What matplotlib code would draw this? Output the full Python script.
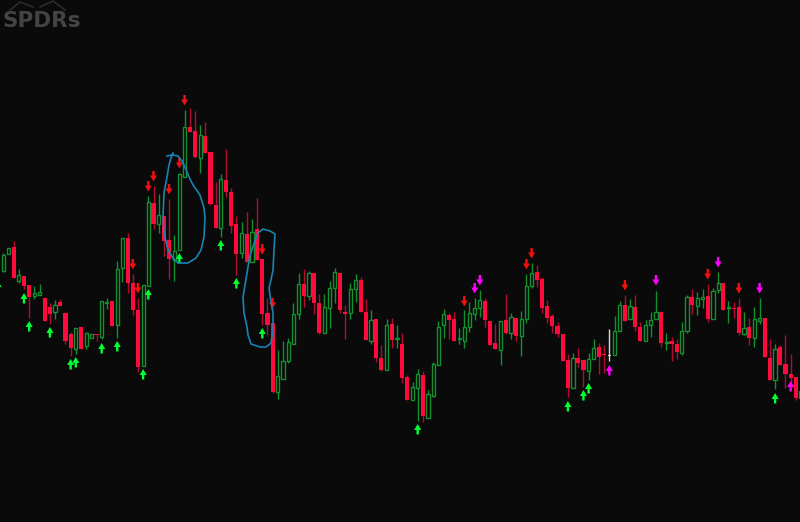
import numpy as np
import matplotlib
matplotlib.use('Agg')
import matplotlib.pyplot as plt

# candle values (inverted scale, top of picture = 0)
high = [257,253,248,241,269,276,285,286,284,298,
        303,300,299,312,332,328,327,332,334,334,
        301,298,301,261,238,233,274,298,285,196,
        186,194,216,199,235,173,110,108,111,125,
        122,152,182,174,149,188,216,222,212,219,
        198,259,298,323,350,341,338,303,273,269,
        271,273,294,294,281,268,273,305,283,274,
        277,299,310,319,345,319,318,325,333,375,
        382,369,371,390,362,321,309,313,312,328,
        310,302,298,290,298,321,324,321,294,313,
        318,311,274,263,265,277,300,314,322,334,
        354,353,348,360,353,339,343,345,329,316,
        301,295,299,295,322,320,312,291,311,333,
        337,339,322,295,289,292,289,284,288,272,
        283,301,302,298,312,318,307,298,318,339,
        344,345,335,354,377,391]
body_top = [259,255,248,247,275,276,285,293,292,298,
            307,305,302,313,334,328,327,333,334,334,
            301,302,301,269,238,238,283,310,285,202,
            203,215,216,240,251,174,127,127,131,135,
            136,152,205,179,180,192,224,233,234,232,
            229,259,313,323,376,361,342,314,284,284,
            273,273,303,307,288,272,273,312,289,280,
            280,312,320,319,358,325,324,338,344,377,
            387,374,375,394,364,327,314,315,319,338,
            327,313,308,300,301,321,343,321,320,317,
            318,319,286,273,272,279,306,316,326,334,
            360,358,358,360,359,348,347,354,355,331,
            305,305,306,307,327,325,320,312,312,342,
            341,344,331,297,297,298,297,296,291,283,
            283,307,308,307,328,327,319,318,318,358,
            349,347,364,374,377,391]
body_bot = [269,271,254,278,281,286,297,296,295,321,
            314,312,306,341,348,349,349,346,338,335,
            337,303,326,325,268,283,310,367,366,286,
            224,224,241,259,260,250,177,132,157,158,
            153,204,228,228,192,226,254,253,262,262,
            260,314,325,392,392,379,361,344,314,296,
            296,303,333,333,308,288,310,314,313,289,
            312,340,341,358,370,370,340,339,378,400,
            400,388,416,418,396,365,325,320,341,339,
            341,327,314,308,320,345,349,350,333,333,
            336,336,319,286,280,308,318,326,334,361,
            388,388,363,370,371,359,357,355,356,355,
            331,321,319,327,341,341,325,319,343,343,
            344,352,353,331,305,306,299,319,319,290,
            310,308,309,333,334,338,338,321,357,380,
            380,365,374,378,398,398]
low = [270,272,254,278,283,289,318,299,295,321,
       324,319,306,344,356,354,349,349,338,341,
       339,309,326,338,282,293,315,372,366,286,
       229,233,256,279,281,250,177,132,158,173,
       153,205,228,237,197,233,275,258,262,262,
       260,325,335,393,399,379,363,344,319,307,
       300,314,334,333,328,303,313,339,319,302,
       312,340,344,362,371,370,348,348,383,400,
       400,421,422,418,397,365,338,339,341,344,
       348,332,320,317,327,345,349,365,334,339,
       341,356,323,288,287,313,323,333,337,361,
       397,388,367,387,380,359,374,373,361,355,
       331,321,319,331,341,341,337,319,347,350,
       361,359,355,333,314,315,308,322,319,293,
       310,323,318,335,335,345,347,324,357,380,
       389,365,388,387,400,398]
kinds = ("rggrgrrggr" "rgrrrgrggr" "ggrggrrrgg" "rgrrgggrrg" "rrrgrrrgrg"
         "rrrrgggggr" "grrgggrrgg" "rrgrrgrgrr" "ggrggggrrg" "ggggrrrgrg"
         "rgggrrrrrr" "rgrrggrrwg" "grgrrgggrg" "rrggrggrgg" "rgrrgrggrr"
         "grrrrg")

# signal arrows: bar number and where the arrow starts at its top
green_up = [0,5,6,10,14,15,20,23,28,29,35,43,46,51,81,110,113,114,150]
green_up_top = [281,293,321,327,359,357,343,341,369,289,253,240,278,328,424,401,390,383,393]
magenta_up = [118,153]
magenta_up_top = [365,381]
magenta_down = [92,93,127,139,147]
magenta_down_top = [283,275,275,257,283]
red_down = [26,27,29,30,33,35,36,51,53,90,102,103,121,137,143]
red_down_top = [259,283,181,171,184,158,95,244,298,296,259,248,280,269,283]

# the two hand drawn loops, in picture pixels
loop1_x = [167,173,178,182,185,189,193,200,204,205,204,201,196,188,178,173,168,164,163,164,167,169,171,173]
loop1_y = [156,155,156,161,167,177,185,195,208,218,237,250,258,263,263,258,250,233,217,193,177,165,158,153]
loop2_x = [255,258,263,270,275,274,273,271,269,271,273,273,271,266,260,251,248,247,244,243,245,248,250,255]
loop2_y = [241,233,229,231,234,250,270,280,288,302,313,330,343,347,347,344,335,327,313,297,285,267,255,241]

# logo legs above the text
logo_x1 = [10,20,33]
logo_y1 = [10,2,7]
logo_x2 = [40,53,65]
logo_y2 = [7,1,10]

bg = '#0a0a0a'
red = '#ff0a3c'
red_wick = '#b40a30'
green = '#149030'
step = 5.18      # pixels per bar
first = -1.9     # pixel of bar 0

fig = plt.figure(figsize=(8.0, 5.22), dpi=100, facecolor=bg)
ax = fig.add_axes([0, 0, 1, 1], facecolor=bg)
ax.set_xlim(-first / step, (800 - first) / step)
ax.set_ylim(522, 0)
ax.axis('off')

kind = np.array(list(kinds))
idx = np.arange(len(kind))
high = np.array(high)
low = np.array(low)
body_top = np.array(body_top)
body_bot = np.array(body_bot)

# wicks
ax.vlines(idx[kind == 'g'], high[kind == 'g'], low[kind == 'g'], color=green, lw=1.0, zorder=2)
ax.vlines(idx[kind == 'r'], high[kind == 'r'], low[kind == 'r'], color=red_wick, lw=1.0, zorder=2)
ax.vlines(idx[kind == 'w'], high[kind == 'w'], low[kind == 'w'], color='#d8d8d8', lw=1.0, zorder=2)

# bodies, green ones are hollow
g = kind == 'g'
r = kind == 'r'
ax.bar(idx[g], (body_bot - body_top)[g], bottom=body_top[g], width=0.62,
       facecolor=bg, edgecolor=green, lw=1.0, zorder=3)
ax.bar(idx[r], (body_bot - body_top)[r], bottom=body_top[r], width=0.8,
       color=red, lw=0, zorder=3)
w = kind == 'w'
ax.bar(idx[w], (body_bot - body_top)[w], bottom=body_top[w], width=0.7,
       color='#d8d8d8', lw=0, zorder=3)


def arrows(bars, tops, color, down):
    for b, t in zip(bars, tops):
        start, length = (t, 10.5) if down else (t + 10.5, -10.5)
        ax.arrow(b, start, 0, length, width=2.4 / step, head_width=7.0 / step,
                 head_length=6.0, length_includes_head=True, color=color, lw=0, zorder=5)


arrows(green_up, green_up_top, '#00ff33', False)
arrows(magenta_up, magenta_up_top, '#ff00ff', False)
arrows(magenta_down, magenta_down_top, '#ff00ff', True)
arrows(red_down, red_down_top, '#f01010', True)

# hand drawn loops
for lx, ly in [(loop1_x, loop1_y), (loop2_x, loop2_y)]:
    ax.plot((np.array(lx) - first) / step, ly, color='#1a82b4', lw=1.2, zorder=6,
            solid_joinstyle='round')

# logo
ax.text((2 - first) / step, 27, 'SPDRs', color='#444444', fontsize=15.5, fontweight='bold',
        family='DejaVu Sans', va='baseline', ha='left', zorder=6)
ax.plot((np.array(logo_x1) - first) / step, logo_y1, color='#2c2c2c', lw=1.2)
ax.plot((np.array(logo_x2) - first) / step, logo_y2, color='#2c2c2c', lw=1.2)

fig.savefig('out.png', dpi=100, facecolor=bg)
